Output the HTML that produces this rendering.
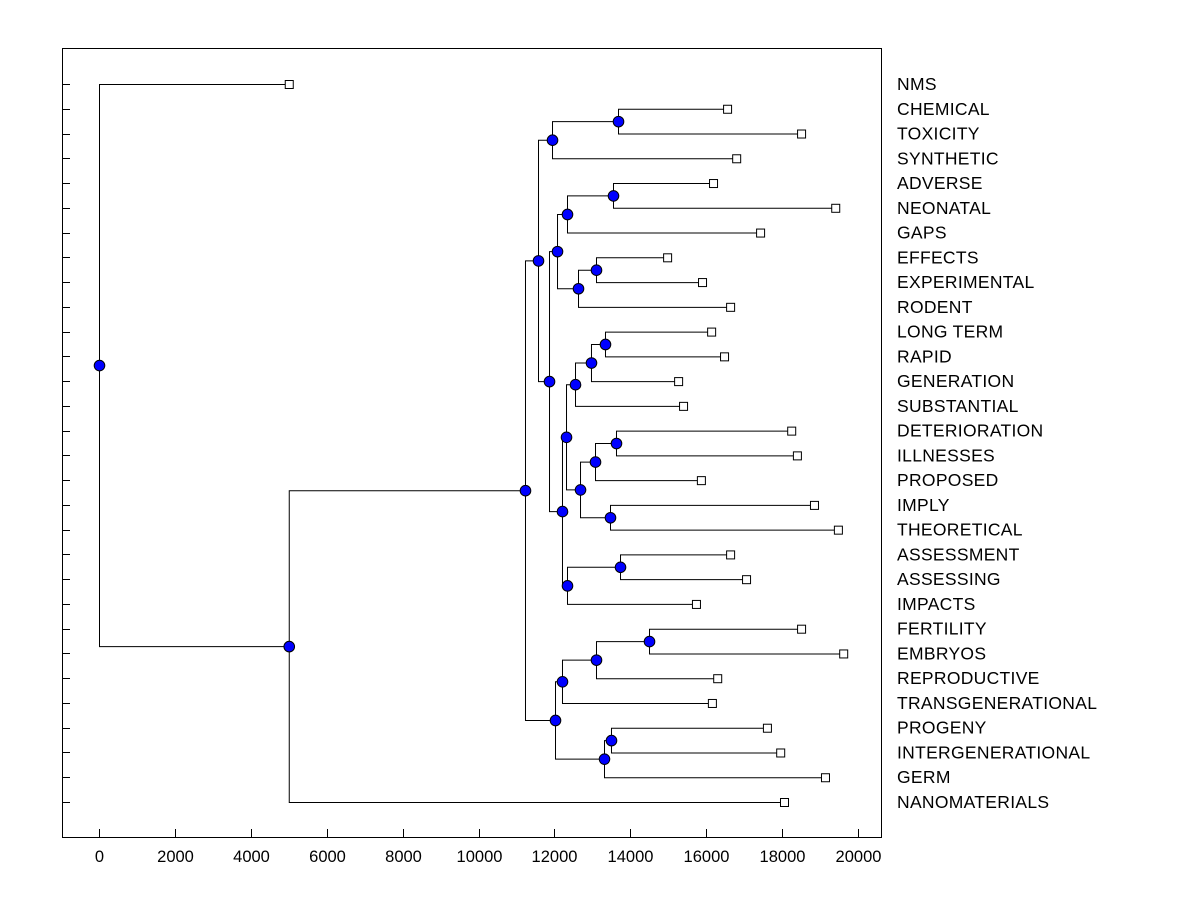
<!DOCTYPE html>
<html><head><meta charset="utf-8"><style>
body{margin:0;background:#fff;}
svg{display:block;font-family:"Liberation Sans",Arial,sans-serif;}
</style></head><body>
<svg id="chart" width="1200" height="900" viewBox="0 0 1200 900">
<rect x="62.5" y="48.5" width="819" height="789" fill="none" stroke="#000" stroke-width="1"/>
<g id="links"></g><g id="marks"></g><g id="labels"></g><g id="axis"></g>
</svg>
<script>
// Leaf labels (top to bottom) and leaf heights
const leafNames = ["NMS","CHEMICAL","TOXICITY","SYNTHETIC","ADVERSE","NEONATAL","GAPS","EFFECTS","EXPERIMENTAL","RODENT","LONG TERM","RAPID","GENERATION","SUBSTANTIAL","DETERIORATION","ILLNESSES","PROPOSED","IMPLY","THEORETICAL","ASSESSMENT","ASSESSING","IMPACTS","FERTILITY","EMBRYOS","REPRODUCTIVE","TRANSGENERATIONAL","PROGENY","INTERGENERATIONAL","GERM","NANOMATERIALS"];
const leafValues = [5000,16550,18500,16790,16180,19400,17420,14970,15890,16630,16130,16470,15260,15390,18240,18390,15860,18840,19470,16630,17050,15730,18500,19610,16290,16150,17600,17950,19130,18050];
// Internal nodes: [name, height, childA, childB]  (children: leaf index number or node name)
const nodeNames = ["root","A","B","C","E","G","F","H","J","L","K","M","I","N","P","R","S","Q","T","V","U","O","W","D","X","Z","AA","Y","AB"];
const nodeHeights = [0,5000,11225,11568,11937,13676,11858,12069,12332,13544,12622,13096,12200,12306,12543,12964,13333,12675,13070,13623,13465,12332,13729,12016,12200,13096,14493,13307,13491];
const nodeChildren = [["NMS_0","A"],["B","L29"],["C","D"],["E","F"],["G","L3"],["L1","L2"],["H","I"],["J","K"],["L","L6"],["L4","L5"],["M","L9"],["L7","L8"],["N","O"],["P","Q"],["R","L13"],["S","L12"],["L10","L11"],["T","U"],["V","L16"],["L14","L15"],["L17","L18"],["W","L21"],["L19","L20"],["X","Y"],["Z","L25"],["AA","L24"],["L22","L23"],["AB","L28"],["L26","L27"]];
const xTicks = [0,2000,4000,6000,8000,10000,12000,14000,16000,18000,20000];

const NS="http://www.w3.org/2000/svg";
const xs = v => 99 + v*0.03795;
const ys = i => 84 + i*(802-84)/29;
function mk(tag,attrs,parent){const e=document.createElementNS(NS,tag);for(const k in attrs)e.setAttribute(k,attrs[k]);parent.appendChild(e);return e;}
const gL=document.getElementById('links'),gM=document.getElementById('marks'),gT=document.getElementById('labels'),gA=document.getElementById('axis');

function pos(ref){
  if(ref==="NMS_0") ref="L0";
  if(ref[0]==="L" && /^L\d+$/.test(ref)){const i=+ref.slice(1);return {x:xs(leafValues[i]),y:ys(i),leaf:i};}
  const k=nodeNames.indexOf(ref);
  const a=pos(nodeChildren[k][0]), b=pos(nodeChildren[k][1]);
  return {x:xs(nodeHeights[k]),y:(a.y+b.y)/2,node:k,a:a,b:b};
}
const drawnNodes=[];
function draw(p){
  if(p.leaf!==undefined) return;
  [p.a,p.b].forEach(c=>{
    const path=mk('path',{d:`M${p.x+0.5},${p.y+0.5}V${c.y+0.5}H${c.x}`,fill:'none',stroke:'#000','stroke-width':1},gL);
    
    
    draw(c);
  });
  drawnNodes.push(p);
}
const root=pos("root");
draw(root);
drawnNodes.forEach(p=>{
  const c=mk('circle',{cx:p.x+0.5,cy:p.y+0.5,r:5.3,fill:'#0000ff',stroke:'#000','stroke-width':1},gM);
  
  
});
leafNames.forEach((n,i)=>{
  const y=ys(i);
  const r=mk('rect',{x:xs(leafValues[i])-3.5,y:y-3.5,width:8,height:8,fill:'#fff',stroke:'#000','stroke-width':1},gM);
  
  
  const t=mk('text',{x:897,y:y+6,'font-size':17.5,fill:'#000','letter-spacing':'0.3'},gT);
  t.textContent=n;
  
  
  const tk=mk('line',{x1:62,x2:70,y1:Math.round(y)+0.5,y2:Math.round(y)+0.5,stroke:'#000'},gA);
  
  
});
xTicks.forEach(v=>{
  const x=Math.round(xs(v))+0.5;
  const l=mk('line',{x1:x,x2:x,y1:829,y2:838,stroke:'#000'},gA);
  
  
  const t=mk('text',{x:x,y:862,'font-size':16.5,'text-anchor':'middle',fill:'#000'},gA);
  t.textContent=v;
  
  
});
</script>
</body></html>
